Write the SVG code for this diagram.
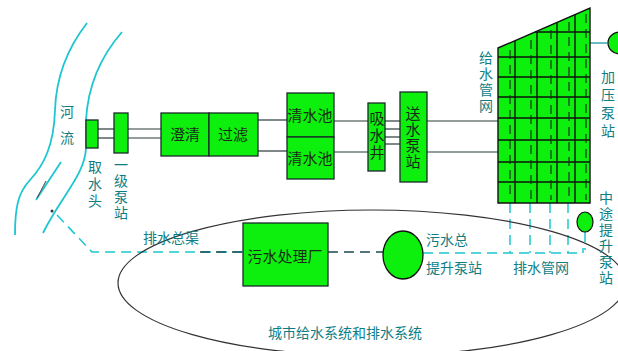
<svg xmlns="http://www.w3.org/2000/svg" width="618" height="351" viewBox="0 0 618 351">
<style>
.box{fill:#0df00d;stroke:#1a2a2a;stroke-width:1.3}
.pipe{stroke:#2a3a3a;stroke-width:1.2;fill:none}
.river{stroke:#1cc6d0;stroke-width:1.8;fill:none}
.dash{stroke:#1cc6d0;stroke-width:1.5;fill:none;stroke-dasharray:10 6}
.lbl{font-family:"Noto Sans CJK SC","Noto Sans",sans-serif;font-size:14px;fill:#0e7e84;text-anchor:middle}
.in{font-family:"Noto Sans CJK SC","Noto Sans",sans-serif;font-size:15px;fill:#1a2a1a;text-anchor:middle}
.v{writing-mode:vertical-rl;text-anchor:start}
.grid{stroke:#111;stroke-width:1.4}
.gd{stroke:#222;stroke-width:1.1;stroke-dasharray:9 6}
</style>
<rect width="618" height="351" fill="#ffffff"/>

<!-- river -->
<g id="river">
<path class="river" d="M87,23 C66,50 56,80 55,110 C54,145 44,165 30,180 C18,193 15,207 15,235"/>
<path class="river" d="M122,32 C101,56 88,86 86,120 L86,148 C85,175 60,198 43,233"/>
<path class="river" d="M61,162 L36,200" stroke-width="1.3"/>
<path d="M46,181 L37,198 L43,187 Z" fill="#1cc6d0" stroke="#555" stroke-width="0.8"/>
<text class="lbl v" x="67" y="105" letter-spacing="12">河流</text>
</g>

<!-- connectors -->
<g id="connectors">
<line class="pipe" x1="98" y1="129" x2="114" y2="129"/>
<line class="pipe" x1="98" y1="138" x2="114" y2="138"/>
<line class="pipe" x1="128" y1="129" x2="161" y2="129"/>
<line class="pipe" x1="128" y1="138" x2="161" y2="138"/>
<line class="pipe" x1="258" y1="120" x2="287" y2="120"/>
<line class="pipe" x1="258" y1="151" x2="287" y2="151"/>
<line class="pipe" x1="334" y1="121" x2="368" y2="121"/>
<line class="pipe" x1="334" y1="152" x2="368" y2="152"/>
<line class="pipe" x1="385" y1="121" x2="400" y2="121"/>
<line class="pipe" x1="385" y1="129" x2="400" y2="129"/>
<line class="pipe" x1="385" y1="137" x2="400" y2="137"/>
<line class="pipe" x1="385" y1="144" x2="400" y2="144"/>
<line class="pipe" x1="427" y1="121" x2="498" y2="121"/>
<line class="pipe" x1="427" y1="152" x2="498" y2="152"/>
<line x1="590" y1="43" x2="607" y2="43" stroke="#1a9aa0" stroke-width="1.3"/>
<!-- drainage -->
<path class="dash" d="M57,215 L92,252 L243,252"/>
<line x1="200" y1="252" x2="243" y2="252" stroke="#1a4a50" stroke-width="1.5" stroke-dasharray="10 6"/>
<line x1="328" y1="252" x2="383" y2="252" stroke="#1a4a50" stroke-width="1.5" stroke-dasharray="10 6"/>
<path class="dash" d="M423,253 L583,253 L583,248"/>
<line class="dash" x1="510" y1="203" x2="510" y2="253"/>
<line class="dash" x1="530" y1="203" x2="530" y2="253"/>
<line class="dash" x1="550" y1="203" x2="550" y2="253"/>
<line class="dash" x1="568" y1="203" x2="568" y2="253"/>
<line class="dash" x1="585" y1="232" x2="585" y2="250" stroke-dasharray="8 4"/>
<circle cx="52" cy="211" r="1.5" fill="#333"/>
</g>

<!-- boundary ellipse -->
<ellipse cx="372" cy="283" rx="254" ry="73" fill="none" stroke="#333" stroke-width="1.2"/>

<g id="intake">
<rect class="box" x="86" y="120" width="12" height="28"/>
<text class="lbl v" x="95" y="160" letter-spacing="3">取水头</text>
</g>

<g id="pump1">
<rect class="box" x="114" y="113" width="14" height="40"/>
<text class="lbl v" x="121" y="158" letter-spacing="2">一级泵站</text>
</g>

<g id="clarify">
<rect class="box" x="161" y="113" width="48" height="43"/>
<text class="in" x="185" y="140">澄清</text>
</g>

<g id="filter">
<rect class="box" x="209" y="113" width="49" height="43"/>
<text class="in" x="233" y="140">过滤</text>
</g>

<g id="tank1">
<rect class="box" x="287" y="93" width="47" height="44"/>
<text class="in" x="310" y="121">清水池</text>
</g>

<g id="tank2">
<rect class="box" x="287" y="137" width="47" height="42"/>
<text class="in" x="310" y="164">清水池</text>
</g>

<g id="well">
<rect class="box" x="368" y="103" width="17" height="68"/>
<text class="in v" x="377" y="110.5" letter-spacing="2">吸水井</text>
</g>

<g id="pump2">
<rect class="box" x="400" y="92" width="27" height="90"/>
<text class="in v" x="413" y="105.5" letter-spacing="1">送水泵站</text>
</g>

<g id="network">
<polygon points="498,48 590,8 590,203 498,203" fill="#0df00d" stroke="#111" stroke-width="1.4"/>
<line class="grid" x1="535" y1="32" x2="590" y2="32"/>
<line class="grid" x1="498" y1="57" x2="590" y2="57"/>
<line class="grid" x1="498" y1="77" x2="590" y2="77"/>
<line class="grid" x1="498" y1="97" x2="590" y2="97"/>
<line class="grid" x1="498" y1="118" x2="590" y2="118"/>
<line class="grid" x1="498" y1="140" x2="590" y2="140"/>
<line class="grid" x1="498" y1="162" x2="590" y2="162"/>
<line class="grid" x1="498" y1="182" x2="590" y2="182"/>
<line class="grid" x1="515" y1="41" x2="515" y2="203"/>
<line class="grid" x1="537" y1="32" x2="537" y2="203"/>
<line class="grid" x1="557" y1="23" x2="557" y2="203"/>
<line class="grid" x1="575" y1="15" x2="575" y2="203"/>
<line class="gd" x1="510" y1="50" x2="510" y2="200"/>
<line class="gd" x1="531" y1="40" x2="531" y2="200"/>
<line class="gd" x1="551" y1="30" x2="551" y2="200"/>
<line class="gd" x1="569" y1="22" x2="569" y2="200"/>
<line class="gd" x1="586" y1="14" x2="586" y2="200"/>
<text class="lbl v" x="486" y="51" font-size="12" letter-spacing="2">给水管网</text>
<text class="lbl" x="541" y="273">排水管网</text>
</g>

<g id="booster">
<ellipse cx="620" cy="43" rx="12" ry="11" fill="#0df00d" stroke="#111" stroke-width="1.3"/>
<text class="lbl v" x="608" y="69.5" font-size="12" letter-spacing="4">加压泵站</text>
</g>

<g id="midpump">
<ellipse cx="585" cy="222" rx="8" ry="10" fill="#0df00d" stroke="#111" stroke-width="1.2"/>
<text class="lbl v" x="606" y="190.5" font-size="13" letter-spacing="2">中途提升泵站</text>
</g>

<g id="mainpump">
<ellipse cx="403" cy="255" rx="20" ry="24" fill="#0df00d" stroke="#111" stroke-width="1.3"/>
<text class="lbl" x="447" y="245">污水总</text>
<text class="lbl" x="454" y="273">提升泵站</text>
</g>

<g id="plant">
<rect class="box" x="243" y="223" width="85" height="63"/>
<text class="in" x="285" y="262">污水处理厂</text>
</g>

<text class="lbl" x="171" y="243">排水总渠</text>
<text class="lbl" x="345" y="338" font-size="15">城市给水系统和排水系统</text>
</svg>
